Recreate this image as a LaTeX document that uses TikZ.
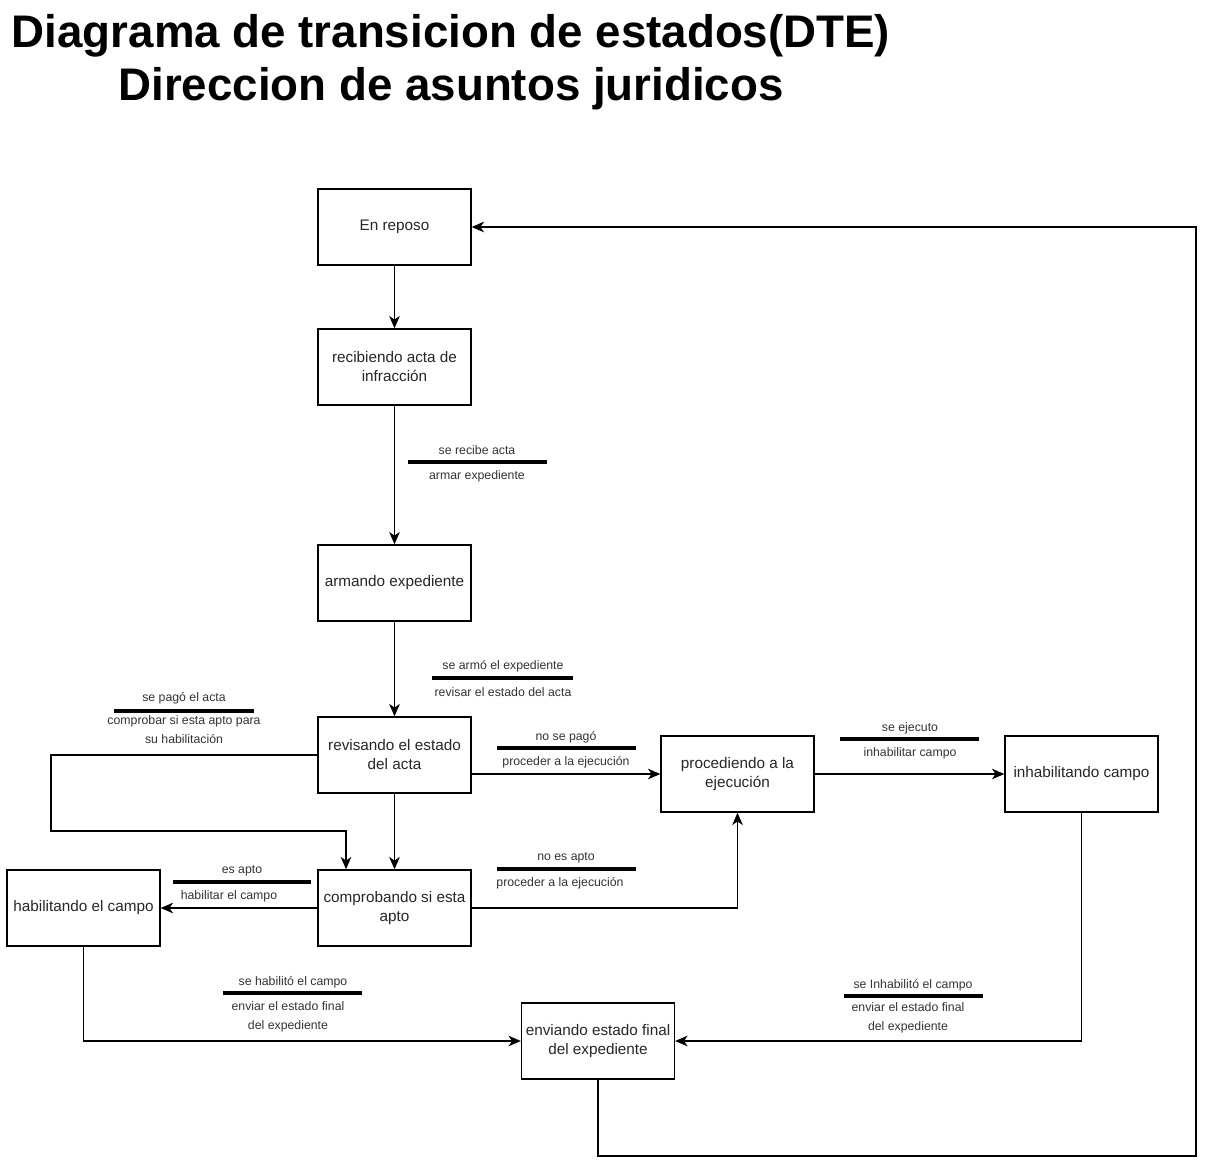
\documentclass[tikz,border=0pt]{standalone}
\usepackage{fontspec}
\setmainfont{Liberation Sans}
\usetikzlibrary{arrows.meta}
\tikzset{
  estado/.style={draw, line width=0.8pt, minimum width=3.06cm, minimum height=1.52cm,
    align=center, font=\fontsize{8.7}{10.8}\selectfont, text=black!85, inner sep=1pt},
  lbl/.style={align=center, font=\fontsize{7}{10.8}\selectfont, text=black!80, inner sep=0pt},
  bar/.style={line width=1.8pt},
  arr/.style={line width=0.8pt, -{Stealth[length=7pt,width=6pt,inset=2pt]}},
  titulo/.style={font=\bfseries\fontsize{26}{30}\selectfont, anchor=base}
}
\begin{document}
\begin{tikzpicture}[x=0.02cm, y=-0.02cm]
                \useasboundingbox (0,0) rectangle (1207,1167);
                % titulo
                \node[titulo] (tit1) at (451,47) {Diagrama de transicion de estados(DTE)};
                \node[titulo] (tit2) at (451,100) {Direccion de asuntos juridicos};
                % estados
                \node[estado] (reposo) at (394.5,227) {En reposo};
                \node[estado] (recibiendo) at (394.5,367) {recibiendo acta de\\infracción};
                \node[estado] (armando) at (394.5,583) {armando expediente};
                \node[estado] (revisando) at (394.5,755) {revisando el estado\\del acta};
                \node[estado] (comprobando) at (394.5,908) {comprobando si esta\\apto};
                \node[estado] (habilitando) at (83.5,908) {habilitando el campo};
                \node[estado] (procediendo) at (737.5,774) {procediendo a la\\ejecución};
                \node[estado] (inhabilitando) at (1081.5,774) {inhabilitando campo};
                \node[estado] (enviando) at (598,1041) {enviando estado final\\del expediente};
                % transiciones
                \draw[arr] (reposo) -- (recibiendo);
                \draw[arr] (recibiendo) -- (armando);
                \draw[arr] (armando) -- (revisando);
                \draw[arr] (revisando) -- (comprobando);
                \draw[arr] (revisando.west) -- (51,755) -- (51,831) -| ([xshift=-0.97cm]comprobando.north);
                \draw[arr] (revisando.east |- procediendo.west) -- (procediendo.west);
                \draw[arr] (procediendo) -- (inhabilitando);
                \draw[arr] (comprobando.east) -| (procediendo.south);
                \draw[arr] (comprobando) -- (habilitando);
                \draw[arr] (habilitando.south) |- (enviando.west);
                \draw[arr] (inhabilitando.south) |- (enviando.east);
                \draw[arr] (enviando.south) |- (1196,1156) |- (reposo.east);
                % etiquetas
                \node[lbl] (e1a) at (477,450) {se recibe acta};
                \draw[bar] (408,462) -- (547,462);
                \node[lbl] (e1b) at (477,476) {armar expediente};
                \node[lbl] (e2a) at (503,666) {se armó el expediente};
                \draw[bar] (432,678) -- (573,678);
                \node[lbl] (e2b) at (503,692) {revisar el estado del acta};
                \node[lbl] (e3a) at (184,698) {se pagó el acta};
                \draw[bar] (114,711) -- (254,711);
                \node[lbl, anchor=north] (e3b) at (184,715) {comprobar si esta apto para\\su habilitación};
                \node[lbl] (e4a) at (566,737) {no se pagó};
                \draw[bar] (497,748) -- (636,748);
                \node[lbl] (e4b) at (566,762) {proceder a la ejecución};
                \node[lbl] (e5a) at (910,728) {se ejecuto};
                \draw[bar] (840,739) -- (979,739);
                \node[lbl] (e5b) at (910,753) {inhabilitar campo};
                \node[lbl] (e6a) at (566,858) {no es apto};
                \draw[bar] (497,869) -- (636,869);
                \node[lbl] (e6b) at (560,883) {proceder a la ejecución};
                \node[lbl] (e7a) at (242,871) {es apto};
                \draw[bar] (173,882) -- (311,882);
                \node[lbl] (e7b) at (229,896) {habilitar el campo};
                \node[lbl] (e8a) at (293,982) {se habilitó el campo};
                \draw[bar] (223,993) -- (362,993);
                \node[lbl, anchor=north] (e8b) at (288,1001) {enviar el estado final\\del expediente};
                \node[lbl] (e9a) at (913,985) {se Inhabilitó el campo};
                \draw[bar] (844,996) -- (983,996);
                \node[lbl, anchor=north] (e9b) at (908,1002) {enviar el estado final\\del expediente};
            \end{tikzpicture}
\end{document}
